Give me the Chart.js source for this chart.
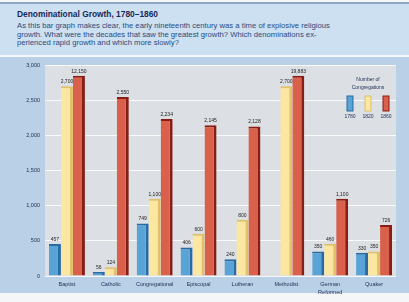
<!DOCTYPE html>
<html>
<head>
<meta charset="utf-8">
<script src="https://cdn.jsdelivr.net/npm/chart.js@4.4.1/dist/chart.umd.min.js"></script>
<style>
  html, body { margin: 0; padding: 0; background: #f4f6f8; }
  body { width: 409px; height: 302px; position: relative; overflow: hidden; font-family: "Liberation Sans", Arial, sans-serif; }
  #head { position: absolute; left: 0; top: 2px; width: 409px; height: 53px; background: #cde0f2; border-top: 2px solid #8ea7c0; box-sizing: border-box; }
  #title { position: absolute; left: 17px; top: 5px; font-size: 8.4px; font-weight: bold; color: #17285a; white-space: nowrap; }
  #desc { position: absolute; left: 17px; top: 18px; font-size: 7.7px; line-height: 8.6px; color: #2b4a7c; white-space: nowrap; }
  #panel { position: absolute; left: 0; top: 57px; width: 409px; height: 236px; background: #bad0e6; }
  #wrap { position: absolute; left: 0; top: 57px; width: 409px; height: 240px; }
</style>
</head>
<body>
<div id="head">
  <div id="title">Denominational Growth, 1780–1860</div>
  <div id="desc">As this bar graph makes clear, the early nineteenth century was a time of explosive religious<br>growth. What were the decades that saw the greatest growth? Which denominations ex-<br>perienced rapid growth and which more slowly?</div>
</div>
<div id="panel"></div>
<div id="wrap"><canvas id="chart"></canvas></div>
<script>
const categories = ['Baptist', 'Catholic', 'Congregational', 'Episcopal', 'Lutheran', 'Methodist', ['German', 'Reformed'], 'Quaker'];
const years = ['1780', '1820', '1860'];
const y1780 = [457, 56, 749, 406, 240, 0, 350, 330];
const y1820 = [2700, 124, 1100, 600, 800, 2700, 460, 350];
const y1860 = [12150, 2550, 2234, 2145, 2128, 19883, 1100, 726];
const yTicks = [0, 500, 1000, 1500, 2000, 2500, 3000];
const cap = 2850; // taller bars are cut off here

const fills = ['#5aa3d6', '#fbe6a2', '#d9614b'];
const edges = ['#2a6aa2', '#e2c067', '#871d14'];
const series = [y1780, y1820, y1860];

const fmt = v => v.toLocaleString('en-US');

const bgPlugin = {
  id: 'bg',
  beforeDraw(chart) {
    const { ctx, chartArea: a } = chart;
    ctx.save();
    ctx.fillStyle = '#dcdfe3';
    ctx.fillRect(a.left, a.top, a.right - a.left, a.bottom - a.top);
    ctx.restore();
  }
};

const labelPlugin = {
  id: 'valueLabels',
  afterDatasetsDraw(chart) {
    const ctx = chart.ctx;
    ctx.save();
    ctx.font = '5px "Liberation Sans", Arial, sans-serif';
    ctx.fillStyle = '#222';
    ctx.textAlign = 'center';
    ctx.textBaseline = 'bottom';
    chart.data.datasets.forEach((ds, i) => {
      chart.getDatasetMeta(i).data.forEach((bar, j) => {
        const v = series[i][j];
        if (!v) return;
        ctx.fillText(fmt(v), bar.x, bar.y - 2);
      });
    });
    ctx.restore();
  }
};

const legendPlugin = {
  id: 'boxLegend',
  afterDraw(chart) {
    const ctx = chart.ctx;
    const cx = 368, top = 20;
    ctx.save();
    ctx.font = '5px "Liberation Sans", Arial, sans-serif';
    ctx.fillStyle = '#1e2e55';
    ctx.textAlign = 'center';
    ctx.textBaseline = 'middle';
    ctx.fillText('Number of', cx, top + 3);
    ctx.fillText('Congregations', cx, top + 11);
    years.forEach((y, i) => {
      const x = cx - 18 + i * 18;
      ctx.fillStyle = fills[i];
      ctx.fillRect(x - 3, top + 19, 6, 15);
      ctx.strokeStyle = edges[i];
      ctx.lineWidth = 1;
      ctx.strokeRect(x - 3, top + 19, 6, 15);
      ctx.fillStyle = '#1e2e55';
      ctx.fillText(y, x, top + 40);
    });
    ctx.restore();
  }
};

new Chart(document.getElementById('chart'), {
  type: 'bar',
  data: {
    labels: categories,
    datasets: series.map((vals, i) => ({
      label: years[i],
      data: vals.map(v => Math.min(v, cap)),
      backgroundColor: fills[i],
      borderColor: edges[i],
      borderWidth: { right: 3, top: 2, left: 0, bottom: 0 },
      borderSkipped: false,
      categoryPercentage: 0.82,
      barPercentage: 1.0
    }))
  },
  options: {
    responsive: true,
    maintainAspectRatio: false,
    animation: false,
    layout: { padding: { top: 8, right: 13, left: 0, bottom: 0 } },
    plugins: { legend: { display: false }, tooltip: { enabled: false } },
    scales: {
      x: {
        grid: { display: false, drawTicks: false },
        border: { display: false },
        ticks: { color: '#1e2e55', font: { size: 5.5, family: '"Liberation Sans", Arial, sans-serif', lineHeight: 1.5 }, padding: 4, maxRotation: 0, autoSkip: false },
        afterFit(s) { s.height = 21; }
      },
      y: {
        min: 0, max: 3000,
        afterBuildTicks(s) { s.ticks = yTicks.map(v => ({ value: v })); },
        grid: { color: 'rgba(255,255,255,0.85)', drawTicks: false },
        border: { display: false },
        ticks: { color: '#1e2e55', font: { size: 5.5, family: '"Liberation Sans", Arial, sans-serif' }, padding: 5, callback: v => fmt(v) },
        afterFit(s) { s.width = 45; }
      }
    }
  },
  plugins: [bgPlugin, labelPlugin, legendPlugin]
});
</script>
</body>
</html>
